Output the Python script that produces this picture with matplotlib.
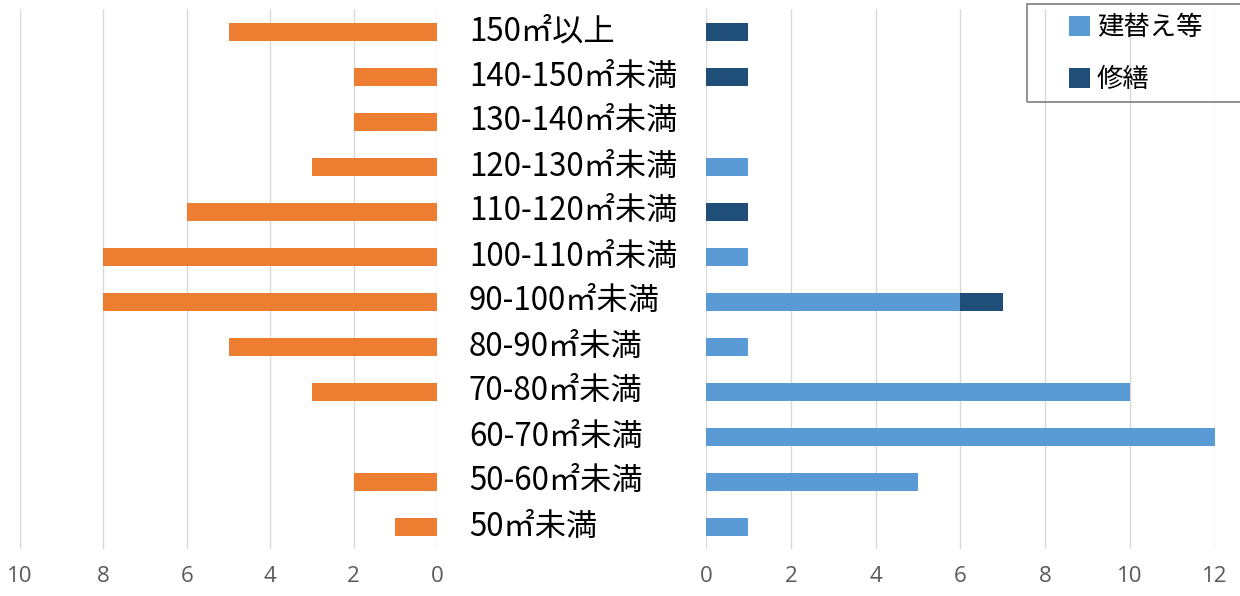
import matplotlib
matplotlib.use("Agg")
import matplotlib.pyplot as plt
from matplotlib.patches import Patch, Rectangle
from matplotlib.transforms import blended_transform_factory

plt.rcParams['font.family'] = ['Noto Sans CJK JP', 'DejaVu Sans']

# Floor-area bands, top to bottom
categories = ["150㎡以上", "140-150㎡未満", "130-140㎡未満", "120-130㎡未満",
              "110-120㎡未満", "100-110㎡未満", "90-100㎡未満", "80-90㎡未満",
              "70-80㎡未満", "60-70㎡未満", "50-60㎡未満", "50㎡未満"]

# Left panel counts
left_counts = [5, 2, 2, 3, 6, 8, 8, 5, 3, 0, 2, 1]
# Right panel counts (stacked)
rebuild = [0, 0, 0, 1, 0, 1, 6, 1, 10, 12, 5, 1]
repair = [1, 1, 0, 0, 1, 0, 1, 0, 0, 0, 0, 0]

left_ticks = [10, 8, 6, 4, 2, 0]
right_ticks = [0, 2, 4, 6, 8, 10, 12]

c_orange = "#ED7D31"
c_light = "#5B9BD5"
c_dark = "#1F4E79"
grid_c = "#D9D9D9"
tick_c = "#595959"

W, H = 1240, 596
fig = plt.figure(figsize=(W / 100, H / 100), dpi=100)

top = 1 - 9 / H
bottom = 1 - 549 / H
axL = fig.add_axes([20 / W, bottom, (437 - 20) / W, top - bottom])
axR = fig.add_axes([706 / W, bottom, (1215 - 706) / W, top - bottom])

ypos = list(range(len(categories)))
bar_h = 0.4

axL.barh(ypos, left_counts, height=bar_h, color=c_orange, zorder=3)
axR.barh(ypos, rebuild, height=bar_h, color=c_light, zorder=3)
axR.barh(ypos, repair, left=rebuild, height=bar_h, color=c_dark, zorder=3)

axL.set_xlim(10, 0)
axR.set_xlim(0, 12)
axL.set_xticks(left_ticks)
axR.set_xticks(right_ticks)

for ax in (axL, axR):
    ax.set_ylim(len(categories) - 0.5, -0.5)
    ax.set_yticks([])
    for s in ax.spines.values():
        s.set_visible(False)
    ax.grid(axis='x', color=grid_c, linewidth=1.0, zorder=0)
    ax.tick_params(axis='x', length=0, pad=12, labelsize=16, labelcolor=tick_c)
    for lbl in ax.get_xticklabels():
        lbl.set_fontfamily(['Open Sans', 'DejaVu Sans'])

# Category labels in the gap between the panels
tr = blended_transform_factory(fig.transFigure, axL.transData)
for y, name in zip(ypos, categories):
    fig.text(469 / W, y, name, transform=tr, ha='left', va='center',
             fontsize=22.5, color='black')

# Legend: frameless entries inside a separately drawn box
fig.patches.append(Rectangle((1027 / W, 1 - 102 / H), 225 / W, 98 / H,
                             transform=fig.transFigure, fill=False,
                             edgecolor='#7F7F7F', linewidth=1.2, zorder=5))
handles = [Patch(facecolor=c_light, edgecolor='none', label="建替え等"),
           Patch(facecolor=c_dark, edgecolor='none', label="修繕")]
leg = fig.legend(handles=handles, loc='upper left',
                 bbox_to_anchor=(1069 / W, 1 - 14 / H),
                 fontsize=19, frameon=False,
                 handlelength=0.8, handleheight=0.8,
                 handletextpad=0.25, labelspacing=0.95, borderpad=0,
                 borderaxespad=0)

fig.savefig("out.png", dpi=100)
